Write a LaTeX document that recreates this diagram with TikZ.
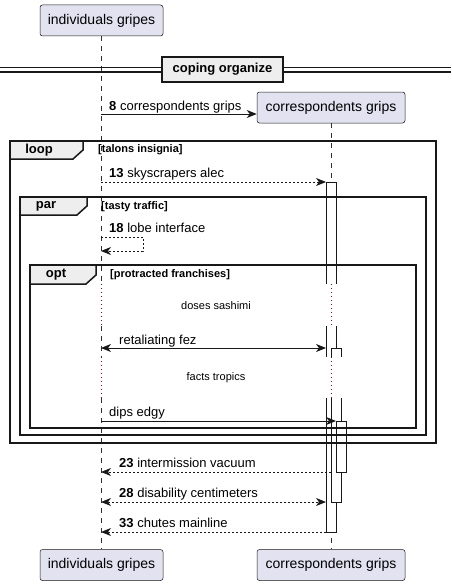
\documentclass[tikz,border=0pt]{standalone}
\usepackage{fontspec}
\setmainfont{Liberation Sans}
\usetikzlibrary{arrows.meta,positioning,calc}
\definecolor{partfill}{HTML}{E2E2F0}
\definecolor{partline}{HTML}{181818}
\definecolor{tabfill}{HTML}{EEEEEE}
\definecolor{delayred}{HTML}{A80036}
\tikzset{
  participant/.style={draw=partline,fill=partfill,rounded corners=2.5pt,line width=0.5pt,
    minimum height=31pt,inner sep=0pt,font=\fontsize{14}{16}\selectfont},
  lifeline/.style={partline!90,line width=0.5pt,dash pattern=on 5pt off 5pt},
  delayline/.style={delayred,line width=0.8pt,dash pattern=on 0.8pt off 3.2pt},
  activation/.style={draw=partline,fill=white,line width=1pt},
  msg/.style={partline,line width=1pt,->},
  retmsg/.style={msg,dash pattern=on 2pt off 2pt},
  msglabel/.style={anchor=base west,inner sep=0pt,font=\fontsize{13}{15}\selectfont},
  fragbox/.style={draw=partline,line width=1.5pt},
  fragtab/.style={fragbox,fill=tabfill},
  tablabel/.style={inner sep=0pt,font=\fontsize{13}{15}\selectfont\bfseries},
  guard/.style={anchor=west,inner sep=0pt,font=\fontsize{11}{13}\selectfont\bfseries},
  delaytext/.style={inner sep=0pt,font=\fontsize{11}{13}\selectfont},
  divider/.style={draw=partline,fill=tabfill,line width=1.5pt,minimum width=121pt,
    minimum height=25pt,inner sep=0pt,font=\fontsize{13}{15}\selectfont\bfseries}
}
\begin{document}
\begin{tikzpicture}[x=1pt,y=-1pt,>={Stealth[length=10pt,width=8pt,inset=3pt]}]
\useasboundingbox (0,0) rectangle (451,586);
\node[participant,minimum width=123pt] (ig) at (101.5,20.5) {individuals gripes};
\node[participant,minimum width=148pt] (cg) at (331,107.5) {correspondents grips};
\node[participant,minimum width=123pt] (ig-bot) at (101.5,565) {individuals gripes};
\node[participant,minimum width=148pt] (cg-bot) at (331,565) {correspondents grips};
\foreach \p in {ig,cg}{
  \draw[lifeline] (\p.south) -- (\p.south |- 0,284);
  \draw[delayline] (\p.south |- 0,284) -- (\p.south |- 0,326);
  \draw[lifeline] (\p.south |- 0,326) -- (\p.south |- 0,357);
  \draw[delayline] (\p.south |- 0,357) -- (\p.south |- 0,398);
  \draw[lifeline] (\p.south |- 0,398) -- (\p-bot.north);
}
\draw[activation] (326,284) -- (326,182) -- (336,182) -- (336,284);
\fill[white] (326,326) rectangle (336,357);
\draw[activation] (326,326) -- (326,357) (336,326) -- (336,357);
\draw[activation] (326,398) -- (326,532) -- (336,532) -- (336,398);
\draw[activation] (331,357) -- (331,348) -- (341,348) -- (341,357);
\draw[activation] (331,398) -- (331,502) -- (341,502) -- (341,398);
\draw[activation] (336,421) rectangle (346,472);
\draw[partline,line width=1pt] (0,68) -- (451,68) (0,72) -- (451,72);
\node[divider] (coping) at (222.5,69.5) {coping organize};
\draw[fragbox] (10,141) rectangle (436,443);
\draw[fragtab] (10,141) -- (83,141) -- (83,150) -- (73,159) -- (10,159) -- cycle;
\node[tablabel] (loop) at (39,150) {loop};
\node[guard] (talons) at (98,150) {[talons insignia]};
\draw[fragbox] (20,197) rectangle (426,435);
\draw[fragtab] (20,197) -- (87,197) -- (87,206) -- (77,215) -- (20,215) -- cycle;
\node[tablabel] (par) at (46,206) {par};
\node[guard] (tasty) at (101,207) {[tasty traffic]};
\draw[fragbox] (30,265) rectangle (416,428);
\draw[fragtab] (30,265) -- (96,265) -- (96,275) -- (86,284) -- (30,284) -- cycle;
\node[tablabel] (opt) at (56,275) {opt};
\node[guard] (protracted) at (110,275) {[protracted franchises]};
\coordinate (i8) at (101,114);
\draw[msg] (i8) -- (cg.west |- i8);
\node[msglabel] (l8) at (109,110) {\textbf{8} correspondents grips};
\coordinate (i13) at (101,182);
\coordinate (c13) at (326,182);
\draw[retmsg] (i13) -- (c13);
\node[msglabel] (l13) at (109,177.5) {\textbf{13} skyscrapers alec};
\coordinate (i18a) at (101,237);
\coordinate (i18b) at (101,251);
\draw[retmsg] (i18a) -- ++(42,0) -- ++(0,14) -- (i18b);
\node[msglabel] (l18) at (109,232.5) {\textbf{18} lobe interface};
\node[delaytext] (doses) at (216,306) {doses sashimi};
\coordinate (ifez) at (101,348);
\coordinate (cfez) at (326,348);
\draw[msg,<->] (ifez) -- (cfez);
\node[msglabel] (lfez) at (119,344) {retaliating fez};
\node[delaytext] (facts) at (216,378) {facts tropics};
\coordinate (idips) at (101,421);
\coordinate (cdips) at (336,421);
\draw[msg] (idips) -- (cdips);
\node[msglabel] (ldips) at (109,416) {dips edgy};
\coordinate (c23) at (331,472);
\coordinate (i23) at (101,472);
\draw[retmsg] (c23) -- (i23);
\node[msglabel] (l23) at (119,467.5) {\textbf{23} intermission vacuum};
\coordinate (i28) at (101,502);
\coordinate (c28) at (326,502);
\draw[retmsg,<->] (i28) -- (c28);
\node[msglabel] (l28) at (119,497.5) {\textbf{28} disability centimeters};
\coordinate (c33) at (326,532);
\coordinate (i33) at (101,532);
\draw[retmsg] (c33) -- (i33);
\node[msglabel] (l33) at (119,527.5) {\textbf{33} chutes mainline};
\end{tikzpicture}
\end{document}
